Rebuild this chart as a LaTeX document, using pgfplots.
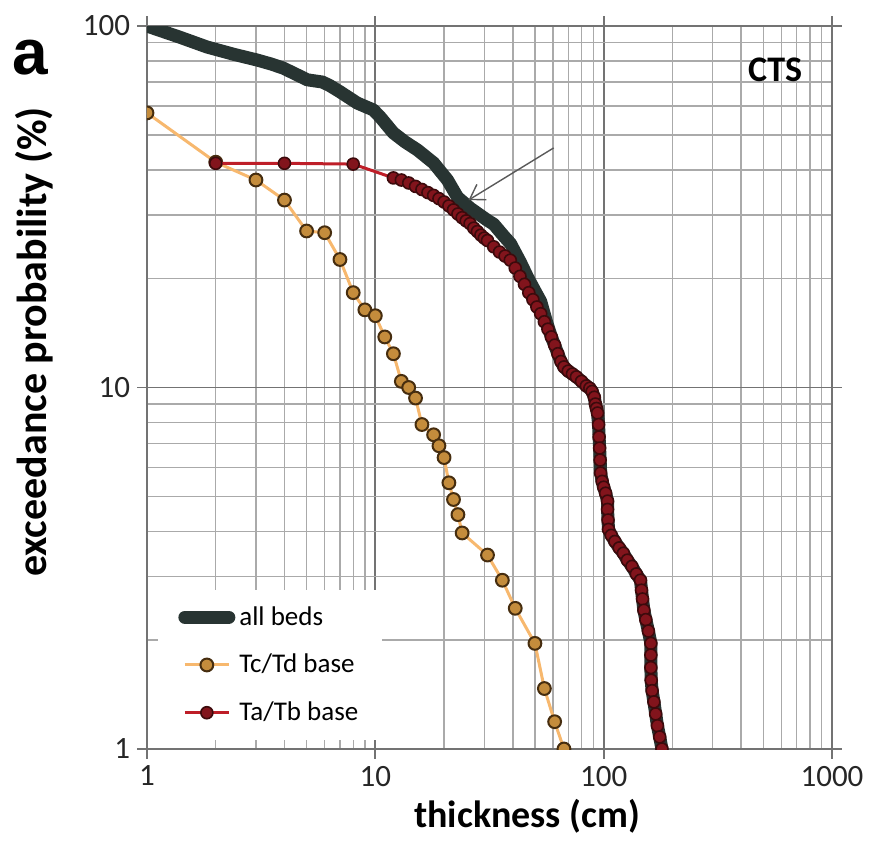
\documentclass[border=0pt]{standalone}
\usepackage{fontspec}
\setmainfont{Carlito}
\newfontfamily\arialfont{Liberation Sans}
\usepackage{pgfplots}
\pgfplotsset{compat=1.18}
\usetikzlibrary{arrows.meta}

\definecolor{allbeds}{RGB}{40,52,50}
\definecolor{tatbline}{RGB}{190,30,40}
\definecolor{tatbfill}{RGB}{130,20,28}
\definecolor{tatbdraw}{RGB}{60,10,12}
\definecolor{tctdline}{RGB}{247,184,110}
\definecolor{tctdfill}{RGB}{196,140,60}
\definecolor{tctddraw}{RGB}{70,45,15}
\definecolor{gridmaj}{RGB}{115,115,115}
\definecolor{gridmin}{RGB}{170,170,170}

\begin{document}
\begin{tikzpicture}
\begin{axis}[
  at={(0,0)}, anchor=south west,
  scale only axis, width=342.5pt, height=361.5pt,
  xmode=log, ymode=log,
  xmin=1, xmax=1000, ymin=1, ymax=100,
  xtick={1,10,100,1000}, xticklabels={1,10,100,1000},
  ytick={1,10,100}, yticklabels={1,10,100},
  grid=both,
  major grid style={gridmaj, line width=0.9pt},
  minor grid style={gridmin, line width=0.7pt},
  axis line style={gridmaj, line width=0.9pt},
  tick align=outside,
  major tick length=5pt, minor tick length=0pt,
  tick style={gridmaj, line width=0.9pt},
  ticklabel style={font=\fontsize{15.5}{15.5}\selectfont, text=black!85},
  /pgf/number format/assume math mode=true,
  xlabel={thickness (cm)}, ylabel={exceedance probability (\%)},
  xlabel style={font=\bfseries\fontsize{19}{19}\selectfont, at={(axis description cs:0.555,-0.0595)}, anchor=north},
  ylabel style={font=\bfseries\fontsize{21}{21}\selectfont, at={(axis description cs:-0.164,0.563)}, anchor=center},
  clip marker paths=true,
  legend style={at={(axis description cs:0.016,0.22)}, anchor=north west,
    draw=none, fill=white, font=\fontsize{13.5}{13.5}\selectfont,
    row sep=9pt, inner xsep=10pt, inner ysep=6pt},
  legend cell align=left,
  legend image code/.code={\draw[mark repeat=2,mark phase=2,#1] plot coordinates {(0pt,0pt) (11pt,0pt) (22pt,0pt)};},
]
\addplot[allbeds, line width=6.5pt, line cap=round, line join=round, no markers] coordinates {
(1,100) (1.4,93) (1.83,87.5) (2.4,83.5) (3.04,80.5) (3.5,78.5) (3.95,76.5) (4.5,73.5) (5.03,71) (5.86,70) (6.3,68.5) (7.02,65.7) (8.34,61.2) (9.8,58.6) (10.5,56) (12,50.6) (13.5,47.8) (15.3,45.4) (18,41.8) (20.7,37.5) (22.9,33.6) (26.1,31.3) (31,29) (33,28.3) (36.4,26.3) (39.1,25) (43.2,22.2) (46.4,20.2) (50,18.5) (53,17.3) (56,15.3)
(59,13.8) (61,13.1) (63,12.4) (65,11.8) (67,11.4) (70,11.1) (73,10.9) (76,10.7) (80,10.4) (84,10.1) (87,9.95) (89,9.75) (91,9.4) (92,9.0) (93,8.75) (94,8.5) (95,7.9) (95.5,7.3) (96,6.8) (96.5,6.3) (97,5.8) (98.5,5.5) (100,5.3) (102,5.1) (104,4.85) (104,4.6) (104.5,4.3) (105,4.05) (108,3.9) (112,3.75) (117,3.6) (122,3.48) (127,3.33) (133,3.2) (139,3.05) (145,2.93) (146.5,2.75) (148,2.6) (150,2.42) (153,2.28) (157,2.12) (161,1.96) (161,1.82) (161,1.68) (161.5,1.55) (163,1.45) (166,1.35) (169,1.25) (172,1.16) (176,1.08) (180,1.0)
};
\addlegendentry{all beds}
\addplot[tctdline, line width=1.5pt, mark=*, mark size=3.2pt, mark options={fill=tctdfill, draw=tctddraw, line width=1pt}] coordinates {
(1,57.5) (2,42) (3,37.5) (4,33) (5,27.1) (6,26.8) (7,22.6) (8,18.3) (9,16.4) (10,15.8) (11,13.8) (12,12.4) (13,10.4) (14,10) (15,9.35) (16,7.9) (18,7.4) (19,6.9) (20,6.4) (21,5.45) (22,4.9) (23,4.45) (24,3.96) (31,3.44) (36,2.93) (41,2.45) (50,1.96) (55,1.47) (61,1.19) (67,1.0)
};
\addlegendentry{Tc/Td base}
\addplot[tatbline, line width=1.5pt, mark=*, mark size=3pt, mark options={fill=tatbfill, draw=tatbdraw, line width=0.8pt}] coordinates {
(2,41.7) (4,41.7) (8,41.5) (12,38) (13,37.5) (14,36.8) (15,36) (16,35.3) (17,34.6) (18,34) (19,33.3) (20,32.6) (21,31.8) (22,31) (23,30.2) (24,29.5) (25,28.9) (26,28.4) (27,27.6) (28,27) (29,26.4) (30,25.9) (31,25.5) (33,24.5) (35,23.7) (37,23.1) (39,22.5) (41,21.4) (43,20.3) (45,19.3) (47,18.3) (49,17.5) (51,16.7) (53,16) (55,15.2) (57,14.5) (59,13.8) (61,13.1) (63,12.4) (65,11.8) (67,11.4) (70,11.1) (73,10.9) (76,10.7) (80,10.4) (84,10.1) (87,9.95) (89,9.75) (91,9.4) (92,9.0) (93,8.75) (94,8.5) (95,7.9) (95.5,7.3) (96,6.8) (96.5,6.3) (97,5.8) (98.5,5.5) (100,5.3) (102,5.1) (104,4.85) (104,4.6) (104.5,4.3) (105,4.05) (108,3.9) (112,3.75) (117,3.6) (122,3.48) (127,3.33) (133,3.2) (139,3.05) (145,2.93) (146.5,2.75) (148,2.6) (150,2.42) (153,2.28) (157,2.12) (161,1.96) (161,1.82) (161,1.68) (161.5,1.55) (163,1.45) (166,1.35) (169,1.25) (172,1.16) (176,1.08) (180,1.0)
};
\addlegendentry{Ta/Tb base}
\draw[black!65, line width=0.7pt, -{Straight Barb[length=7pt,width=9pt]}] (axis cs:60.4,46) -- (axis cs:25.6,33);
\node[font=\bfseries\fontsize{18}{18}\selectfont] at (axis description cs:0.917,0.939) {CTS};
\end{axis}
\node[font=\arialfont\bfseries\fontsize{32}{32}\selectfont] at (-58.5pt,345.75pt) {a};
\pgfresetboundingbox
\path[use as bounding box] (-73.5pt,-55pt) rectangle (361pt,374.5pt);
\end{tikzpicture}
\end{document}
